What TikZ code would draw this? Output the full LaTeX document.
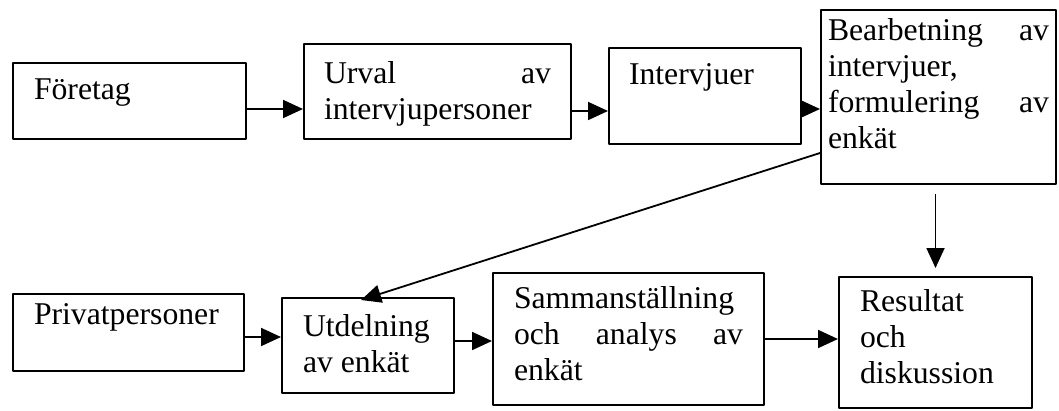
\documentclass[tikz,border=0pt]{standalone}
\usepackage{fontspec}
\setmainfont{Liberation Serif}
\usetikzlibrary{arrows.meta,calc}
\tikzset{
  every picture/.style={line join=round, >={Triangle[length=20pt,width=18pt]}},
  ruta/.style={draw, line width=2pt, anchor=north west, inner ysep=0pt, inner xsep=21pt,
    align=justify, font={\fontsize{31.7}{36}\selectfont}},
  pil/.style={->, line width=1.8pt},
}
\begin{document}
\begin{tikzpicture}[x=1pt,y=-1pt]
\useasboundingbox (0,0) rectangle (1059,410);
% upper row
\node[ruta,text width=191pt,text height=36pt,text depth=40pt] (foretag) at (12,62) {Företag};
\node[ruta,inner xsep=20pt,text width=227pt,text height=39pt,text depth=56pt] (urval) at (303,43) {Urval\hfill av\\intervjupersoner};
\node[ruta,inner xsep=20pt,text width=152pt,text height=36pt,text depth=60pt] (intervj) at (608,47) {Intervjuer};
\node[ruta,inner xsep=7pt,text width=221pt,text height=30pt,text depth=144pt] (bearb) at (820,9) {Bearbetning\hfill av\\intervjuer,\\formulering\hfill av\\enkät};
% lower row
\node[ruta,text width=189pt,text height=30pt,text depth=47pt] (priv) at (12,293) {Privatpersoner};
\node[ruta,text width=130pt,text height=38pt,text depth=57pt] (utdel) at (281,297) {Utdelning\\av enkät};
\node[ruta,text width=229pt,text height=35pt,text depth=97pt] (samm) at (492,272) {Sammanställning\\och\hfill analys\hfill av\\enkät};
\node[ruta,text width=151pt,text height=34pt,text depth=97pt] (resultat) at (838,276) {Resultat\\och\\diskussion};
% arrows
\draw[pil] ($(foretag.east)+(0,8)$) -- ($(foretag.east -| urval.west)+(0,8)$);
\draw[pil] ($(urval.east)+(0,19.5)$) -- ($(urval.east -| intervj.west)+(0,19.5)$);
\draw[pil] ($(intervj.east)+(0,13)$) -- ($(intervj.east -| bearb.west)+(0,13)$);
\draw[pil] ($(bearb.west)+(0,56)$) -- ($(utdel.north)+(-7,3)$);
\draw[pil] ($(bearb.south -| resultat.north)+(0,9)$) -- ($(resultat.north)+(0,-8)$);
\draw[pil] ($(priv.east)+(0,4.5)$) -- ($(priv.east -| utdel.west)+(0,4.5)$);
\draw[pil] ($(utdel.east)+(0,-4.5)$) -- ($(utdel.east -| samm.west)+(0,-4.5)$);
\draw[pil] (samm.east) -- (samm.east -| resultat.west);
\end{tikzpicture}
\end{document}
